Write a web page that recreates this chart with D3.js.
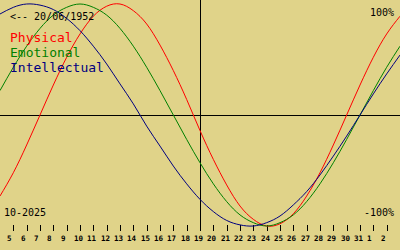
<!DOCTYPE html>
<html>
<head>
<meta charset="utf-8">
<script src="https://cdn.jsdelivr.net/npm/d3@7"></script>
<style>
  html, body { margin: 0; padding: 0; background: #e0d389; }
  svg { display: block; }
  text { font-family: 'DejaVu Sans Mono', monospace; }
</style>
</head>
<body>
<div id="chart-area"></div>
<script>
// day index 4 = 4 Oct 2025 ... 34 = 3 Nov 2025
const days = d3.range(4, 35);
const tickDays = d3.range(5, 34);
const tickLabels = [5, 6, 7, 8, 9, 10, 11, 12, 13, 14, 15, 16, 17, 18, 19, 20,
  21, 22, 23, 24, 25, 26, 27, 28, 29, 30, 31, 1, 2];
const today = 19;

const physical = [-0.73, -0.52, -0.27, 0, 0.27, 0.52, 0.73, 0.89, 0.98, 1.0, 0.94,
  0.82, 0.63, 0.4, 0.14, -0.14, -0.4, -0.63, -0.82, -0.94, -1.0, -0.98, -0.89,
  -0.73, -0.52, -0.27, 0, 0.27, 0.52, 0.73, 0.89];
const emotional = [0.22, 0.43, 0.62, 0.78, 0.9, 0.97, 1.0, 0.97, 0.9, 0.78, 0.62,
  0.43, 0.22, 0, -0.22, -0.43, -0.62, -0.78, -0.9, -0.97, -1.0, -0.97, -0.9,
  -0.78, -0.62, -0.43, -0.22, 0, 0.22, 0.43, 0.62];
const intellectual = [0.91, 0.97, 1.0, 0.99, 0.95, 0.87, 0.76, 0.62, 0.46, 0.28,
  0.1, -0.1, -0.28, -0.46, -0.62, -0.76, -0.87, -0.95, -0.99, -1.0, -0.97, -0.91,
  -0.81, -0.69, -0.54, -0.37, -0.19, 0, 0.19, 0.37, 0.54];

const seriesNames = ['Physical', 'Emotional', 'Intellectual'];
const seriesColors = ['#ff0000', '#008000', '#000080'];

let width = 400;
let height = 250;

let xScale = d3.scaleLinear().domain([4, 34]).range([0, width]);
let yScale = d3.scaleLinear().domain([-1, 1]).range([226, 4]);

let chart = d3
  .select('#chart-area')
  .append('svg')
  .attr('width', width)
  .attr('height', height);

chart.append('rect').attr('width', width).attr('height', height).attr('fill', '#e0d389');

// axes cross
chart
  .append('line')
  .attr('x1', 0)
  .attr('x2', width)
  .attr('y1', yScale(0) + 0.5)
  .attr('y2', yScale(0) + 0.5)
  .attr('stroke', '#000');
chart
  .append('line')
  .attr('x1', xScale(today) + 0.5)
  .attr('x2', xScale(today) + 0.5)
  .attr('y1', 0)
  .attr('y2', 231)
  .attr('stroke', '#000');

// day ticks
let ticks = chart.append('g').attr('id', 'ticks');
ticks
  .selectAll('line')
  .data(tickDays)
  .enter()
  .append('line')
  .attr('x1', (d) => Math.round(xScale(d)) + 0.5)
  .attr('x2', (d) => Math.round(xScale(d)) + 0.5)
  .attr('y1', 225)
  .attr('y2', 231)
  .attr('stroke', '#000');
ticks
  .selectAll('text')
  .data(tickDays)
  .enter()
  .append('text')
  .attr('x', (d) => Math.round(xScale(d)) - 6)
  .attr('y', 241)
  .style('font-size', '7.5px')
  .style('font-weight', 'bold')
  .text((d, i) => tickLabels[i]);

// curves
let line = d3
  .line()
  .x((d, i) => xScale(days[i]))
  .y((d) => yScale(d))
  .curve(d3.curveNatural);

[physical, emotional, intellectual].forEach((s, i) => {
  chart
    .append('path')
    .attr('d', line(s))
    .attr('fill', 'none')
    .attr('stroke', seriesColors[i])
    .attr('stroke-width', 1);
});

// labels
chart.append('text').attr('x', 10).attr('y', 20).style('font-size', '10px').text('<-- 20/06/1952');
chart
  .append('text')
  .attr('x', 394)
  .attr('y', 16)
  .style('font-size', '10px')
  .style('text-anchor', 'end')
  .text('100%');
chart
  .append('text')
  .attr('x', 394)
  .attr('y', 216)
  .style('font-size', '10px')
  .style('text-anchor', 'end')
  .text('-100%');
chart.append('text').attr('x', 4).attr('y', 216).style('font-size', '10px').text('10-2025');

chart
  .append('g')
  .selectAll('text')
  .data(seriesNames)
  .enter()
  .append('text')
  .attr('x', 10)
  .attr('y', (d, i) => 42 + i * 15)
  .style('font-size', '13px')
  .attr('fill', (d, i) => seriesColors[i])
  .text((d) => d);
</script>
</body>
</html>
